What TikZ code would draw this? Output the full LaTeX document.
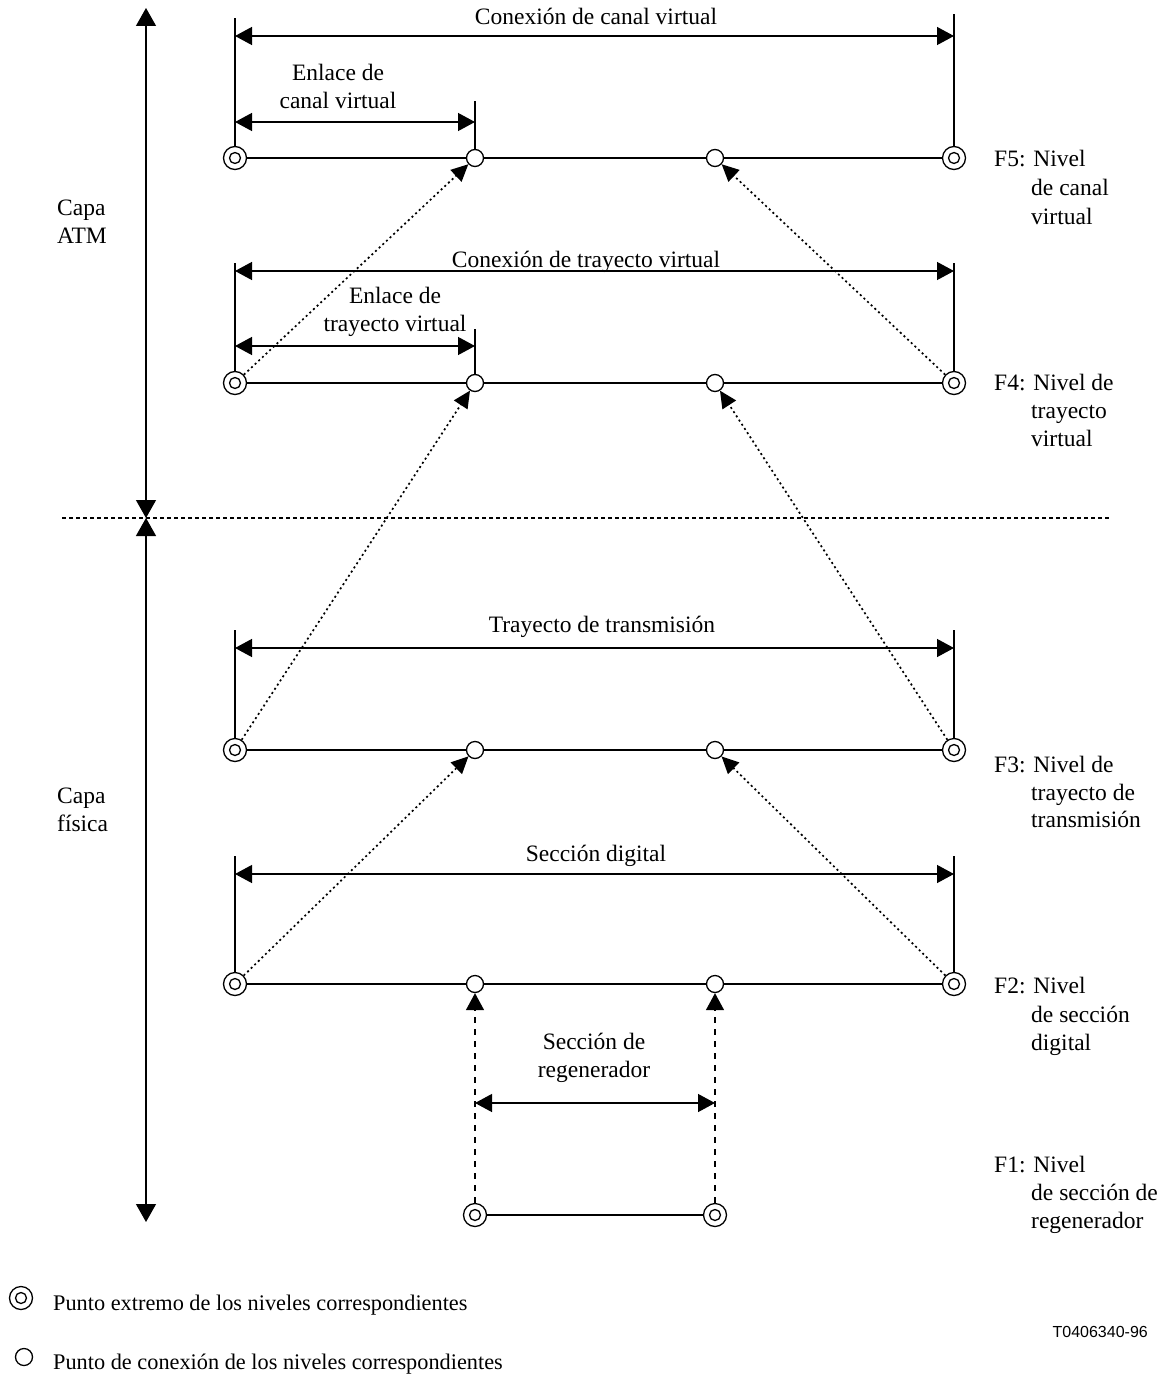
\documentclass[tikz,border=0pt]{standalone}
\usepackage{fontspec}
\setmainfont{Liberation Serif}
\newfontfamily\codefont{Liberation Sans}
\usetikzlibrary{arrows.meta}
\tikzset{
  ln/.style={line width=1.3pt},
  endpt/.style={circle, draw, line width=1.3pt, fill=white, minimum size=23pt, inner sep=0pt,
    path picture={\draw[line width=1.3pt] (path picture bounding box.center) circle (5.5pt);}},
  conpt/.style={circle, draw, line width=1.3pt, fill=white, minimum size=17pt, inner sep=0pt},
  dim/.style={line width=1.3pt, {Triangle[length=17pt,width=18pt]}-{Triangle[length=17pt,width=18pt]}},
  axis/.style={line width=1.3pt, {Triangle[length=18pt,width=20pt]}-{Triangle[length=18pt,width=20pt]}},
  dotarrow/.style={line width=1.7pt, dash pattern=on 2pt off 3pt, -{Triangle[length=17pt,width=16pt]}},
  dasharrow/.style={line width=1.3pt, dash pattern=on 6pt off 6pt, -{Triangle[length=17pt,width=18pt]}},
  txt/.style={font=\fontsize{23.5}{28}\selectfont, inner sep=0pt, anchor=base},
  txtl/.style={txt, anchor=base west},
  legtxt/.style={font=\fontsize{22.3}{26}\selectfont, inner sep=0pt, anchor=base west},
}
\begin{document}
\begin{tikzpicture}[x=1pt,y=-1pt]
\useasboundingbox (0,0) rectangle (1166,1375);

% ---- level points ----
\foreach \lv/\yy in {5/158,4/383,3/750,2/984}{
  \node[endpt] (f\lv l) at (235,\yy) {};
  \node[conpt] (f\lv a) at (475,\yy) {};
  \node[conpt] (f\lv b) at (715,\yy) {};
  \node[endpt] (f\lv r) at (954,\yy) {};
  \draw[ln] (f\lv l) -- (f\lv a) -- (f\lv b) -- (f\lv r);
}
\node[endpt] (f1a) at (475,1215) {};
\node[endpt] (f1b) at (715,1215) {};
\draw[ln] (f1a) -- (f1b);

% ---- F5 dimensions ----
\coordinate (v5l) at (235,18);
\coordinate (v5r) at (954,14);
\draw[ln] (f5l) -- (v5l);
\draw[ln] (f5r) -- (v5r);
\coordinate (d5l) at (235,36);
\coordinate (d5r) at (954,36);
\draw[dim] (d5l) -- (d5r);
\node[txt] (t5) at (596,25) {Conexión de canal virtual};
\coordinate (v5a) at (475,101);
\draw[ln] (f5a) -- (v5a);
\coordinate (e5l) at (235,122);
\coordinate (e5r) at (475,122);
\draw[dim] (e5l) -- (e5r);
\node[txt] (e5t1) at (338,81) {Enlace de};
\node[txt] (e5t2) at (338,109) {canal virtual};

% ---- F4 dimensions ----
\coordinate (v4l) at (235,263);
\coordinate (v4r) at (954,263);
\draw[ln] (f4l) -- (v4l);
\draw[ln] (f4r) -- (v4r);
\coordinate (d4l) at (235,271);
\coordinate (d4r) at (954,271);
\draw[dim] (d4l) -- (d4r);
\node[txt] (t4) at (586,267) {Conexión de trayecto virtual};
\coordinate (v4a) at (475,329);
\draw[ln] (f4a) -- (v4a);
\coordinate (e4l) at (235,346);
\coordinate (e4r) at (475,346);
\draw[dim] (e4l) -- (e4r);
\node[txt] (e4t1) at (395,303) {Enlace de};
\node[txt] (e4t2) at (395,331) {trayecto virtual};

% ---- F3 dimensions ----
\coordinate (v3l) at (235,630);
\coordinate (v3r) at (954,630);
\draw[ln] (f3l) -- (v3l);
\draw[ln] (f3r) -- (v3r);
\coordinate (d3l) at (235,648);
\coordinate (d3r) at (954,648);
\draw[dim] (d3l) -- (d3r);
\node[txt] (t3) at (602,632) {Trayecto de transmisión};

% ---- F2 dimensions ----
\coordinate (v2l) at (235,856);
\coordinate (v2r) at (954,856);
\draw[ln] (f2l) -- (v2l);
\draw[ln] (f2r) -- (v2r);
\coordinate (d2l) at (235,874);
\coordinate (d2r) at (954,874);
\draw[dim] (d2l) -- (d2r);
\node[txt] (t2) at (596,861) {Sección digital};

% ---- F1 dimension ----
\coordinate (d1l) at (475,1103);
\coordinate (d1r) at (715,1103);
\draw[dim] (d1l) -- (d1r);
\node[txt] (t1a) at (594,1049) {Sección de};
\node[txt] (t1b) at (594,1077) {regenerador};

% ---- dotted arrows between levels ----
\draw[dotarrow] (f4l) -- (f5a);
\draw[dotarrow] (f4r) -- (f5b);
\draw[dotarrow] (f3l) -- (f4a);
\draw[dotarrow] (f3r) -- (f4b);
\draw[dotarrow] (f2l) -- (f3a);
\draw[dotarrow] (f2r) -- (f3b);
\draw[dasharrow] (f1a) -- (f2a);
\draw[dasharrow] (f1b) -- (f2b);

% ---- layer axis ----
\coordinate (ax1) at (146,8);
\coordinate (ax2) at (146,518);
\coordinate (ax3) at (146,1222);
\draw[axis] (ax1) -- (ax2);
\draw[axis] (ax2) -- (ax3);
\coordinate (hl) at (62,518);
\coordinate (hr) at (1110,518);
\draw[line width=1.3pt, dash pattern=on 4pt off 3pt] (hl) -- (hr);
\node[txtl] (c1a) at (57,215) {Capa};
\node[txtl] (c1b) at (57,243) {ATM};
\node[txtl] (c2a) at (57,803) {Capa};
\node[txtl] (c2b) at (57,831) {física};

% ---- right labels ----
\node[txtl] (r5a) at (994,167) {F5: Nivel};
\node[txtl] (r5b) at (1031,196) {de canal};
\node[txtl] (r5c) at (1031,224) {virtual};
\node[txtl] (r4a) at (994,390) {F4: Nivel de};
\node[txtl] (r4b) at (1031,418) {trayecto};
\node[txtl] (r4c) at (1031,446) {virtual};
\node[txtl] (r3a) at (994,772) {F3: Nivel de};
\node[txtl] (r3b) at (1031,800) {trayecto de};
\node[txtl] (r3c) at (1031,827) {transmisión};
\node[txtl] (r2a) at (994,993) {F2: Nivel};
\node[txtl] (r2b) at (1031,1022) {de sección};
\node[txtl] (r2c) at (1031,1050) {digital};
\node[txtl] (r1a) at (994,1172) {F1: Nivel};
\node[txtl] (r1b) at (1031,1200) {de sección de};
\node[txtl] (r1c) at (1031,1228) {regenerador};

% ---- legend ----
\node[endpt] (lg1) at (21,1298) {};
\node[conpt] (lg2) at (24,1357) {};
\node[legtxt] (lt1) at (53,1310) {Punto extremo de los niveles correspondientes};
\node[legtxt] (lt2) at (53,1369) {Punto de conexión de los niveles correspondientes};
\node[font=\codefont\fontsize{16}{18}\selectfont, inner sep=0pt, anchor=base east] (code) at (1148,1337) {T0406340-96};
\end{tikzpicture}
\end{document}
